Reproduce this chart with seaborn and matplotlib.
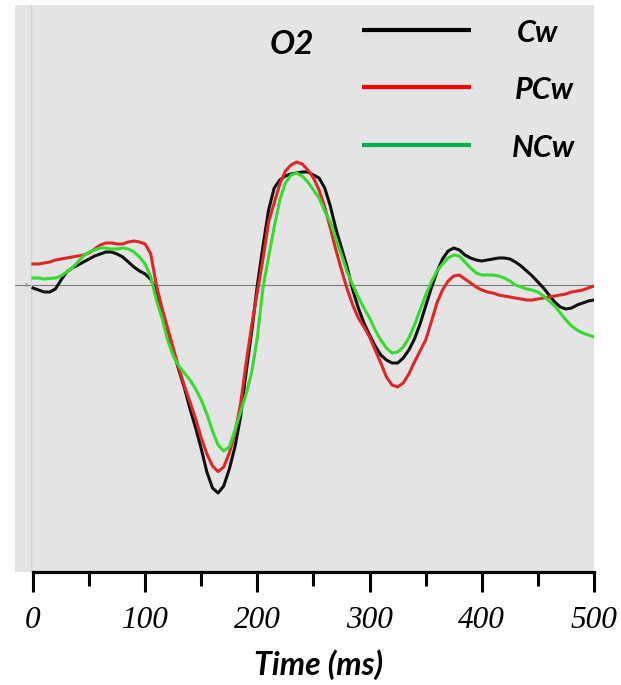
import numpy as np
import pandas as pd
import matplotlib
matplotlib.use("Agg")
import matplotlib.pyplot as plt
from matplotlib.lines import Line2D
import seaborn as sns

# ---- data (amplitude in arbitrary µV units, time in ms) ----
time_ms = list(range(0, 501, 5))

cw = [-0.15, -0.25, -0.35, -0.35, -0.2, 0.25, 0.65, 0.85, 1.0, 1.15,
      1.3, 1.45, 1.55, 1.65, 1.65, 1.55, 1.4, 1.15, 0.9, 0.7,
      0.55, 0.28, -0.3, -1.4, -2.3, -3.3, -4.25, -5.15, -6.2, -7.15,
      -8.2, -9.35, -10.15, -10.4, -10.05, -9.2, -8.1, -6.6, -4.35, -2.3,
      0.0, 1.95, 3.75, 4.85, 5.25, 5.45, 5.55, 5.6, 5.65, 5.65,
      5.5, 5.35, 4.85, 3.95, 2.8, 1.85, 0.9, -0.25, -1.15, -1.9,
      -2.5, -3.05, -3.5, -3.75, -3.9, -3.9, -3.65, -3.25, -2.7, -1.95,
      -1.05, -0.15, 0.65, 1.3, 1.7, 1.85, 1.75, 1.5, 1.35, 1.25,
      1.2, 1.25, 1.3, 1.35, 1.35, 1.3, 1.15, 0.95, 0.7, 0.45,
      0.15, -0.15, -0.5, -0.85, -1.1, -1.2, -1.15, -1.0, -0.9, -0.8,
      -0.75]

pcw = [1.05, 1.05, 1.1, 1.15, 1.25, 1.3, 1.35, 1.4, 1.45, 1.5,
       1.6, 1.8, 2.0, 2.1, 2.1, 2.05, 2.05, 2.15, 2.2, 2.15,
       2.05, 1.55, 0.0, -1.15, -2.15, -3.15, -4.15, -5.05, -5.85, -6.7,
       -7.65, -8.45, -9.05, -9.33, -9.1, -8.4, -7.4, -5.95, -3.9, -2.0,
       -0.35, 1.3, 3.15, 4.1, 5.05, 5.7, 6.0, 6.15, 6.05, 5.75,
       5.35, 4.75, 3.9, 2.85, 1.75, 0.75, -0.2, -1.0, -1.65, -2.1,
       -2.6, -3.25, -3.9, -4.6, -5.0, -5.1, -4.9, -4.45, -3.85, -3.3,
       -2.75, -1.85, -0.9, -0.25, 0.2, 0.45, 0.5, 0.3, 0.1, -0.1,
       -0.25, -0.35, -0.4, -0.5, -0.55, -0.6, -0.65, -0.7, -0.75, -0.75,
       -0.7, -0.65, -0.6, -0.55, -0.5, -0.45, -0.35, -0.3, -0.25, -0.15,
       -0.05]

ncw = [0.35, 0.35, 0.3, 0.33, 0.35, 0.45, 0.65, 0.85, 1.15, 1.45,
       1.65, 1.75, 1.85, 1.85, 1.8, 1.8, 1.85, 1.8, 1.65, 1.4,
       1.05, 0.4, -0.75, -1.65, -2.75, -3.55, -4.05, -4.4, -4.75, -5.2,
       -5.75, -6.45, -7.3, -8.0, -8.3, -8.1, -7.25, -6.35, -5.45, -4.35,
       -2.6, -0.15, 1.4, 2.9, 4.25, 5.1, 5.5, 5.6, 5.45, 5.15,
       4.75, 4.35, 3.7, 3.15, 2.3, 1.5, 0.65, 0.0, -0.6, -1.15,
       -1.65, -2.25, -2.75, -3.15, -3.4, -3.35, -3.1, -2.65, -2.0, -1.25,
       -0.5, 0.15, 0.7, 1.05, 1.35, 1.5, 1.45, 1.15, 0.85, 0.6,
       0.5, 0.5, 0.5, 0.45, 0.35, 0.2, 0.0, -0.1, -0.2, -0.25,
       -0.35, -0.55, -0.8, -1.05, -1.4, -1.75, -2.05, -2.25, -2.4, -2.5,
       -2.6]

conditions = ["Cw", "PCw", "NCw"]
curve_colors = ["#111111", "#e02626", "#35db2f"]
legend_colors = ["#000000", "#ff0000", "#00b050"]
x_major = [0, 100, 200, 300, 400, 500]
x_minor = [50, 150, 250, 350, 450]
x_label = "Time (ms)"
panel_title = "O2"

df = pd.concat([
    pd.DataFrame({"time": time_ms, "amp": vals, "cond": name})
    for name, vals in zip(conditions, [cw, pcw, ncw])
], ignore_index=True)

# ---- figure ----
W, H = 621, 685
fig = plt.figure(figsize=(W / 100, H / 100), dpi=100)
ax = fig.add_axes([15 / W, (H - 572) / H, (594 - 15) / W, (572 - 5) / H])
ax.set_facecolor("#e4e4e4")

ax.axhline(0, color="#7a7a7a", lw=0.8, zorder=1)
ax.axvline(-2, color="#d2d2d2", lw=1.0, zorder=1)
ax.text(-4.5, 0, "0", fontsize=3.5, color="#777777", ha="right", va="center")

sns.lineplot(data=df, x="time", y="amp", hue="cond", hue_order=conditions,
             palette=dict(zip(conditions, curve_colors)), estimator=None,
             linewidth=2.2, legend=False, ax=ax, zorder=3)

ax.set_xlim(-16, 500)
ax.set_ylim(-14.35, 14.0)

for s in ["left", "right", "top"]:
    ax.spines[s].set_visible(False)
ax.spines["bottom"].set_linewidth(2.3)
ax.spines["bottom"].set_color("black")
ax.spines["bottom"].set_bounds(0, 500)

ax.set_yticks([])
ax.set_xticks(x_major)
ax.set_xticks(x_minor, minor=True)
ax.tick_params(axis="x", which="major", direction="out", length=14.5, width=2.2,
               color="black", pad=10)
ax.tick_params(axis="x", which="minor", direction="out", length=10, width=2.2,
               color="black")
ax.set_xticklabels([str(v) for v in x_major], fontsize=22.5,
                   family=["Liberation Serif", "DejaVu Serif"], style="italic")
ax.set_xlabel("")
ax.set_ylabel("")

title_font = dict(family=["Lato", "Liberation Sans", "DejaVu Sans"],
                  weight="bold", style="italic")

fig.text(319 / W, 1 - 665 / H, x_label, ha="center", va="center",
         fontsize=23, **title_font)
fig.text(292 / W, 1 - 45 / H, panel_title, ha="center", va="center",
         fontsize=24, **title_font)

leg_y = [30, 87, 145]
leg_tx = [517, 515, 512]
for name, col, yy, tx in zip(conditions, legend_colors, leg_y, leg_tx):
    fig.add_artist(Line2D([362 / W, 471 / W], [1 - yy / H, 1 - yy / H],
                          color=col, lw=3.0, solid_capstyle="butt"))
    fig.text(tx / W, 1 - (yy + 3) / H, name, ha="left", va="center",
             fontsize=22, **title_font)

fig.savefig("out.png", dpi=100, facecolor="white")
